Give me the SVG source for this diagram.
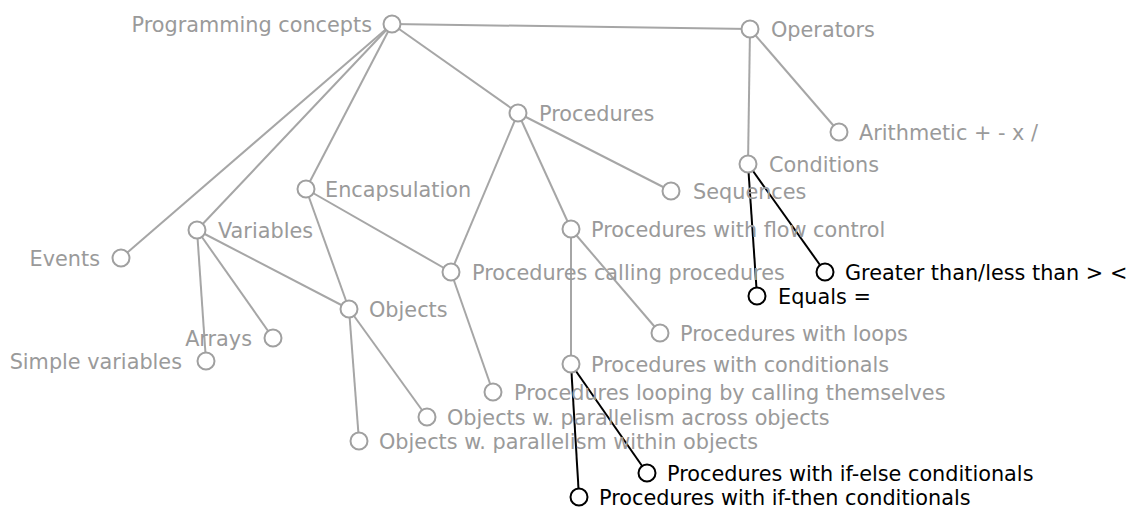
<svg xmlns="http://www.w3.org/2000/svg" width="1133" height="509" viewBox="0 0 1133 509">
<style>
text{font-family:"DejaVu Sans",sans-serif;font-size:20.8px;fill:#9a9a9a}
text.a{fill:#000}
text.r{text-anchor:end}
circle{fill:#fff;stroke:#a0a0a0;stroke-width:2}
circle.a{stroke:#000}
line{stroke:#a6a6a6;stroke-width:2}
line.a{stroke:#000}
</style>
<rect width="1133" height="509" fill="#fff"/>
<g id="connectors">
<line x1="392" y1="24" x2="750" y2="29"/>
<line x1="392" y1="24" x2="518" y2="113"/>
<line x1="392" y1="24" x2="121" y2="258"/>
<line x1="392" y1="24" x2="197" y2="230"/>
<line x1="392" y1="24" x2="306" y2="189"/>
<line x1="750" y1="29" x2="748" y2="164"/>
<line x1="750" y1="29" x2="839" y2="132"/>
<line x1="518" y1="113" x2="671" y2="191"/>
<line x1="518" y1="113" x2="451" y2="272"/>
<line x1="518" y1="113" x2="571" y2="229"/>
<line x1="306" y1="189" x2="451" y2="272"/>
<line x1="306" y1="189" x2="349" y2="309"/>
<line x1="197" y1="230" x2="349" y2="309"/>
<line x1="197" y1="230" x2="273" y2="338"/>
<line x1="197" y1="230" x2="206" y2="361"/>
<line x1="349" y1="309" x2="359" y2="441"/>
<line x1="349" y1="309" x2="427" y2="417"/>
<line x1="451" y1="272" x2="493" y2="392"/>
<line x1="571" y1="229" x2="660" y2="333"/>
<line x1="571" y1="229" x2="571" y2="364"/>
<line class="a" x1="748" y1="164" x2="757" y2="296"/>
<line class="a" x1="748" y1="164" x2="825" y2="272"/>
<line class="a" x1="571" y1="364" x2="647" y2="473"/>
<line class="a" x1="571" y1="364" x2="579" y2="497"/>
</g>
<g id="n-programming-concepts"><circle cx="392" cy="24" r="8.5"/><text class="r" x="372" y="32">Programming concepts</text></g>
<g id="n-operators"><circle cx="750" cy="29" r="8.5"/><text x="771" y="37">Operators</text></g>
<g id="n-procedures"><circle cx="518" cy="113" r="8.5"/><text x="539" y="121">Procedures</text></g>
<g id="n-arithmetic"><circle cx="839" cy="132" r="8.5"/><text x="859" y="140">Arithmetic + - x /</text></g>
<g id="n-conditions"><circle cx="748" cy="164" r="8.5"/><text x="769" y="172">Conditions</text></g>
<g id="n-sequences"><circle cx="671" cy="191" r="8.5"/><text x="693" y="199">Sequences</text></g>
<g id="n-encapsulation"><circle cx="306" cy="189" r="8.5"/><text x="325" y="197">Encapsulation</text></g>
<g id="n-variables"><circle cx="197" cy="230" r="8.5"/><text x="218" y="238">Variables</text></g>
<g id="n-events"><circle cx="121" cy="258" r="8.5"/><text class="r" x="100" y="266">Events</text></g>
<g id="n-flow-control"><circle cx="571" cy="229" r="8.5"/><text x="591" y="237">Procedures with flow control</text></g>
<g id="n-calling"><circle cx="451" cy="272" r="8.5"/><text x="472" y="280">Procedures calling procedures</text></g>
<g id="n-greater"><circle class="a" cx="825" cy="272" r="8.5"/><text class="a" x="845" y="280">Greater than/less than &gt; &lt;</text></g>
<g id="n-equals"><circle class="a" cx="757" cy="296" r="8.5"/><text class="a" x="778" y="304">Equals =</text></g>
<g id="n-objects"><circle cx="349" cy="309" r="8.5"/><text x="369" y="317">Objects</text></g>
<g id="n-arrays"><circle cx="273" cy="338" r="8.5"/><text class="r" x="252" y="346">Arrays</text></g>
<g id="n-loops"><circle cx="660" cy="333" r="8.5"/><text x="680" y="341">Procedures with loops</text></g>
<g id="n-simple"><circle cx="206" cy="361" r="8.5"/><text class="r" x="182" y="369">Simple variables</text></g>
<g id="n-conditionals"><circle cx="571" cy="364" r="8.5"/><text x="591" y="372">Procedures with conditionals</text></g>
<g id="n-looping"><circle cx="493" cy="392" r="8.5"/><text x="514" y="400">Procedures looping by calling themselves</text></g>
<g id="n-across"><circle cx="427" cy="417" r="8.5"/><text x="447" y="425">Objects w. parallelism across objects</text></g>
<g id="n-within"><circle cx="359" cy="441" r="8.5"/><text x="379" y="449">Objects w. parallelism within objects</text></g>
<g id="n-if-else"><circle class="a" cx="647" cy="473" r="8.5"/><text class="a" x="667" y="481">Procedures with if-else conditionals</text></g>
<g id="n-if-then"><circle class="a" cx="579" cy="497" r="8.5"/><text class="a" x="599" y="505">Procedures with if-then conditionals</text></g>
</svg>
